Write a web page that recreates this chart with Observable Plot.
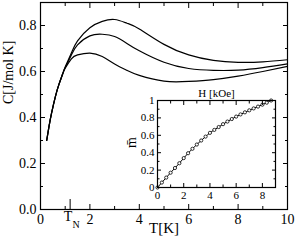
<!DOCTYPE html>
<html>
<head>
<meta charset="utf-8">
<script src="https://cdn.jsdelivr.net/npm/d3@7"></script>
<script src="https://cdn.jsdelivr.net/npm/@observablehq/plot@0.6"></script>
<style>
  html, body { margin: 0; padding: 0; background: white; }
  #wrap { position: relative; width: 295px; height: 242px; overflow: hidden; }
  #wrap svg { position: absolute; }
  #wrap svg, #wrap svg text { font-family: "Liberation Serif", serif !important; }
</style>
</head>
<body>
<div id="wrap"></div>
<script>
// ---- Main chart data: specific heat C vs T for three fields ----
const T      = [0.25, 0.35, 0.45, 0.6, 0.75, 0.9, 1.0, 1.25, 1.5, 2.0, 2.5, 3.0, 3.5, 4.0, 5.0, 6.0, 7.0, 8.0, 9.0, 10.0];
const cHigh  = [0.30, 0.365, 0.42, 0.49, 0.545, 0.59, 0.62, 0.68, 0.733, 0.79, 0.818, 0.826, 0.81, 0.785, 0.718, 0.672, 0.648, 0.64, 0.642, 0.651];
const cMid   = [0.30, 0.365, 0.42, 0.49, 0.545, 0.59, 0.617, 0.672, 0.716, 0.755, 0.762, 0.752, 0.722, 0.69, 0.64, 0.613, 0.605, 0.606, 0.617, 0.633];
const cLow   = [0.30, 0.365, 0.42, 0.49, 0.545, 0.59, 0.614, 0.655, 0.672, 0.68, 0.665, 0.633, 0.605, 0.583, 0.558, 0.557, 0.565, 0.58, 0.60, 0.622];

const xMajor = [0, 2, 4, 6, 8, 10];
const xMinor = [1, 3, 5, 7, 9];
const yMajor = [0, 0.2, 0.4, 0.6, 0.8];
const yMinor = [0.1, 0.3, 0.5, 0.7];
const TN = 1.2;
const xLabel = "T[K]";
const yLabel = "C[J/mol K]";

// ---- Inset data: reduced magnetisation vs field ----
const H = [0, 0.333, 0.667, 1.0, 1.333, 1.667, 2.0, 2.333, 2.667, 3.0, 3.333, 3.667, 4.0, 4.333, 4.667, 5.0, 5.333, 5.667, 6.0, 6.333, 6.667, 7.0, 7.333, 7.667, 8.0, 8.333, 8.667];
const m = [0, 0.057, 0.114, 0.17, 0.224, 0.279, 0.338, 0.394, 0.445, 0.494, 0.540, 0.585, 0.628, 0.662, 0.695, 0.728, 0.758, 0.787, 0.815, 0.840, 0.864, 0.887, 0.909, 0.930, 0.952, 0.975, 1.0];
const hMajor = [0, 2, 4, 6, 8];
const hMinor = [1, 3, 5, 7];
const mMajor = [0, 0.2, 0.4, 0.6, 0.8, 1];
const mMinor = [0.1, 0.3, 0.5, 0.7, 0.9];
const insetXLabel = "H [kOe]";
const insetYLabel = "m\u0304";

const series = [
  ...T.map((t, i) => ({T: t, C: cHigh[i], s: "high"})),
  ...T.map((t, i) => ({T: t, C: cMid[i], s: "mid"})),
  ...T.map((t, i) => ({T: t, C: cLow[i], s: "low"}))
];
const inset = H.map((h, i) => ({H: h, m: m[i]}));

const font = "Liberation Serif";

const main = Plot.plot({
  width: 295, height: 242,
  marginLeft: 40, marginRight: 8, marginTop: 2, marginBottom: 33,
  x: {domain: [0, 10]},
  y: {domain: [0, 0.9]},
  style: {fontFamily: font, fontSize: "13px", color: "black", background: "white"},
  marks: [
    Plot.line(series, {x: "T", y: "C", z: "s", stroke: "black", strokeWidth: 1.2, curve: "natural"}),
    Plot.frame({stroke: "black", strokeWidth: 1.2}),
    // inward ticks, all four sides
    Plot.axisX({anchor: "bottom", ticks: xMajor, tickSize: -5, text: null, label: null}),
    Plot.axisX({anchor: "bottom", ticks: xMinor, tickSize: -3, text: null, label: null}),
    Plot.axisX({anchor: "bottom", ticks: [TN], tickSize: -10, text: null, label: null}),
    Plot.axisX({anchor: "top", ticks: xMajor, tickSize: -5, text: null, label: null}),
    Plot.axisX({anchor: "top", ticks: xMinor, tickSize: -3, text: null, label: null}),
    Plot.axisY({anchor: "left", ticks: yMajor, tickSize: -5, text: null, label: null}),
    Plot.axisY({anchor: "left", ticks: yMinor, tickSize: -3, text: null, label: null}),
    Plot.axisY({anchor: "right", ticks: yMajor, tickSize: -5, text: null, label: null}),
    Plot.axisY({anchor: "right", ticks: yMinor, tickSize: -3, text: null, label: null}),
    // tick labels
    Plot.axisX({anchor: "bottom", ticks: xMajor, tickSize: 0, tickPadding: 5, label: null, fontSize: 14}),
    Plot.axisY({anchor: "left", ticks: yMajor, tickSize: 0, tickPadding: 4, label: null, fontSize: 14}),
    // T_N label
    Plot.text([TN], {x: d => d, frameAnchor: "bottom", text: () => "T", dy: 11, dx: -2, fontSize: 14}),
    Plot.text([TN], {x: d => d, frameAnchor: "bottom", text: () => "N", dy: 18, dx: 6, fontSize: 10}),
    // axis labels
    Plot.text([xLabel], {frameAnchor: "bottom", text: d => d, dy: 23, fontSize: 15}),
    Plot.text([yLabel], {frameAnchor: "left", text: d => d, rotate: -90, dx: -32, dy: -2, fontSize: 14})
  ]
});

const ins = Plot.plot({
  width: 165, height: 115,
  marginLeft: 37, marginRight: 10, marginTop: 15, marginBottom: 13,
  x: {domain: [0, 9]},
  y: {domain: [0, 1]},
  style: {fontFamily: font, fontSize: "11px", color: "black", background: "transparent"},
  marks: [
    Plot.line(inset, {x: "H", y: "m", stroke: "black", strokeWidth: 1, curve: "natural"}),
    Plot.dot(inset, {x: "H", y: "m", r: 1.6, stroke: "black", strokeWidth: 0.8, fill: "white"}),
    Plot.frame({stroke: "black", strokeWidth: 1.2}),
    Plot.axisX({anchor: "bottom", ticks: hMajor, tickSize: -4, text: null, label: null}),
    Plot.axisX({anchor: "bottom", ticks: hMinor, tickSize: -2.5, text: null, label: null}),
    Plot.axisX({anchor: "top", ticks: hMajor, tickSize: -4, text: null, label: null}),
    Plot.axisX({anchor: "top", ticks: hMinor, tickSize: -2.5, text: null, label: null}),
    Plot.axisY({anchor: "left", ticks: mMajor, tickSize: -4, text: null, label: null}),
    Plot.axisY({anchor: "left", ticks: mMinor, tickSize: -2.5, text: null, label: null}),
    Plot.axisY({anchor: "right", ticks: mMajor, tickSize: -4, text: null, label: null}),
    Plot.axisY({anchor: "right", ticks: mMinor, tickSize: -2.5, text: null, label: null}),
    Plot.axisX({anchor: "bottom", ticks: hMajor, tickSize: 0, tickPadding: 4, label: null, fontSize: 11}),
    Plot.axisY({anchor: "left", ticks: mMajor, tickSize: 0, tickPadding: 3, label: null, fontSize: 11, tickFormat: d => String(d)}),
    Plot.text([insetXLabel], {frameAnchor: "top", text: d => d, dy: -11, fontSize: 11}),
    Plot.text([insetYLabel], {frameAnchor: "left", text: d => d, rotate: -90, dx: -26, dy: 4, fontSize: 14})
  ]
});

const wrap = document.getElementById("wrap");
main.style.left = "0px"; main.style.top = "0px";
ins.style.left = "120px"; ins.style.top = "85px";
wrap.appendChild(main);
wrap.appendChild(ins);
</script>
</body>
</html>
